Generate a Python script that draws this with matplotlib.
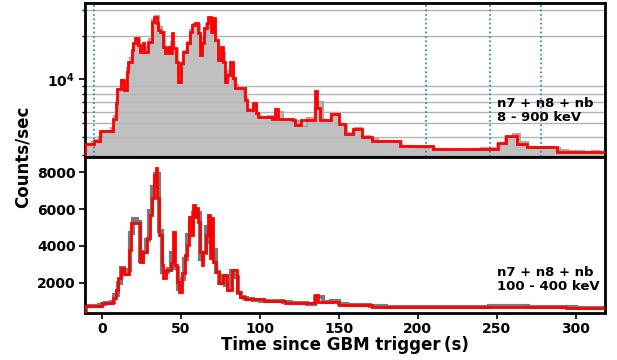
import numpy as np
import matplotlib
matplotlib.use("Agg")
import matplotlib.pyplot as plt
from matplotlib.ticker import LogLocator, NullFormatter, FixedLocator

plt.rcParams["font.family"] = ["DejaVu Sans"]
plt.rcParams["font.weight"] = "bold"
plt.rcParams["axes.labelweight"] = "bold"

# ---------------- 8 - 900 keV (log scale) ----------------
# Bayesian-block light curve (bin edges in s, rate in counts/sec)
bb_edges_hi = [-10.6, -4.9, -1.1, 7.2, 9.1, 9.7, 12.0, 14.1, 15.8, 16.8, 19.0, 20.0,
               21.1, 23.2, 24.2, 25.9, 26.8, 29.5, 31.6, 33.1, 34.8, 35.8, 36.9, 39.0,
               40.1, 42.2, 43.2, 44.3, 45.3, 47.0, 48.5, 50.2, 51.3, 53.8, 55.9, 57.0,
               59.1, 61.1, 62.2, 63.3, 64.7, 66.5, 67.5, 69.0, 70.6, 71.7, 73.8, 75.3,
               76.6, 78.0, 79.1, 81.2, 83.3, 84.4, 90.7, 91.8, 95.8, 97.6, 99.1, 107.6,
               109.7, 111.8, 120.8, 122.3, 126.0, 135.0, 136.5, 138.2, 145.0, 150.0,
               154.0, 159.2, 164.6, 170.9, 188.8, 209.9, 244.0, 251.0, 255.9, 262.7,
               269.4, 288.4, 320.0]
bb_rate_hi = [3580, 3770, 4420, 5320, 6860, 8570, 9890, 8440, 11280, 13230, 15930,
              17710, 19180, 17240, 15490, 17710, 15490, 18170, 24950, 27020, 24330,
              21880, 21290, 16790, 15110, 16790, 15110, 20760, 16360, 13230, 9630,
              12890, 15490, 17710, 21290, 23690, 24330, 20760, 14710, 17710, 22470,
              24330, 27020, 21290, 26340, 18670, 13590, 16790, 13230, 9630, 10700,
              13230, 10160, 8670, 7200, 6210, 6900, 5860, 5520, 5380, 6250, 5380,
              5240, 4840, 5300, 8300, 6400, 5240, 5770, 4900, 4200, 4590, 4050, 3770,
              3470, 3310, 3330, 3680, 4080, 3620, 3430, 3190]

# binned light curve: 2 s bins from -10 to 100 s, 5 s bins from 100 to 320 s
lc_edges = list(range(-10, 100, 2)) + list(range(100, 321, 5))
lc_rate_hi = [3600, 3600, 3700, 3820, 4000,
              4450, 4420, 4450, 4600, 5600, 8500, 9900, 8700, 12000, 14000,
              17200, 19300, 16800, 16800, 16000, 19000, 25500, 27200, 23000, 21300,
              16200, 16000, 18000, 16200, 11000, 12500, 15800, 18000, 22000, 24000,
              23500, 17000, 19500, 24200, 26200, 24000, 18500, 14500, 15200, 10500,
              11500, 12800, 9200, 8800, 8500, 7500, 6300, 6200, 6700, 5900,
              5500, 5600, 6000, 5300, 5200, 4800, 5400, 7000, 5300, 5900,
              4900, 4300, 4650, 4100, 3900, 3800, 3750, 3700, 3500, 3450,
              3400, 3400, 3320, 3300, 3280, 3300, 3280, 3300, 3350, 3400,
              3600, 4000, 4200, 3700, 3450, 3400, 3450, 3400, 3250, 3200,
              3230, 3180, 3200, 3150]

# ---------------- 100 - 400 keV (linear scale) ----------------
bb_edges_lo = [-10.6, 0.0, 7.3, 9.1, 10.5, 12.0, 14.1, 17.5, 18.4, 24.2, 25.9, 28.5,
               30.6, 31.6, 33.1, 34.4, 35.2, 36.5, 38.0, 39.0, 40.7, 43.7, 45.3, 46.4,
               47.8, 49.1, 50.6, 52.7, 54.2, 55.4, 57.0, 58.0, 59.1, 60.1, 61.1, 62.2,
               63.3, 64.3, 65.8, 67.5, 68.5, 69.6, 70.6, 72.5, 74.5, 76.8, 79.0, 82.3,
               85.4, 87.5, 90.7, 103.0, 116.0, 135.0, 137.0, 150.0, 171.0, 294.0, 320.0]
bb_rate_lo = [750, 880, 1150, 1600, 2240, 2780, 2460, 3780, 5250, 3140, 3690, 4410,
              5680, 6590, 7850, 8220, 6590, 4590, 2960, 2270, 2690, 3050, 4770, 2960,
              2050, 1510, 2510, 3500, 4050, 5590, 4590, 6220, 5590, 6040, 5320, 3690,
              2960, 3690, 4590, 5680, 3330, 5500, 3140, 2600, 1970, 2420, 1600, 2690,
              1510, 1240, 1100, 1000, 900, 1330, 950, 800, 700, 650]

lc_rate_lo = [740, 760, 740, 760, 770,
              870, 890, 880, 950, 1350, 2000, 2780, 2500, 2700, 4700,
              5450, 5300, 3200, 3650, 4300, 5900, 7200, 7900, 4800, 2600,
              2600, 2750, 3600, 2800, 1650, 2200, 3300, 4600, 5200, 5800,
              5800, 3300, 3600, 5000, 4200, 3800, 2600, 2000, 2350, 1900,
              1650, 2650, 2300, 1450, 1250, 1150, 1100, 1120, 1080, 1060,
              1000, 1020, 990, 950, 900, 880, 860, 1200, 950, 1000,
              820, 800, 790, 780, 760, 720, 700, 690, 700, 690,
              700, 680, 690, 700, 680, 690, 700, 690, 700, 710,
              720, 760, 740, 710, 700, 690, 700, 680, 690, 660,
              650, 640, 650, 640]

bkg_lines = [-5, 205, 246, 278]
label_hi = "n7 + n8 + nb\n8 - 900 keV"
label_lo = "n7 + n8 + nb\n100 - 400 keV"

fig = plt.figure(figsize=(6.17, 3.6), dpi=100)
ax1 = fig.add_axes([0.1378, 0.5640, 0.8427, 0.4285])
ax2 = fig.add_axes([0.1378, 0.1297, 0.8427, 0.4343], sharex=ax1)

# top panel
ax1.set_yscale("log")
ax1.fill_between(lc_edges, np.r_[lc_rate_hi, lc_rate_hi[-1]], 1, step="post",
                 color="#c0c0c0", lw=0, zorder=1)
ax1.stairs(lc_rate_hi, lc_edges, color="#a8a8a8", lw=1.6, zorder=2)
ax1.stairs(bb_rate_hi, bb_edges_hi, color="red", lw=2.0, zorder=4)
for t in bkg_lines:
    ax1.axvline(t, color="#1f77b4", ls=":", lw=1.2, zorder=3)
ax1.set_ylim(2930, 33700)
ax1.yaxis.set_major_locator(FixedLocator([1e4]))
ax1.yaxis.set_minor_locator(LogLocator(base=10, subs=np.arange(2, 10)))
ax1.yaxis.set_minor_formatter(NullFormatter())
ax1.grid(which="minor", axis="y", color="#b4b4b4", lw=1.0, zorder=0)
ax1.tick_params(axis="x", which="both", bottom=False, labelbottom=False)
ax1.tick_params(axis="y", which="major", length=4, width=1.2, labelsize=10)
ax1.tick_params(axis="y", which="minor", length=2.5, width=1.0)
ax1.text(0.792, 0.30, label_hi, transform=ax1.transAxes, ha="left", va="center",
         fontsize=9.5, fontweight="bold", linespacing=1.1, zorder=5)

# bottom panel
ax2.stairs(lc_rate_lo, lc_edges, color="#7a7a7a", lw=3.0, zorder=2)
ax2.stairs(bb_rate_lo, bb_edges_lo, color="red", lw=2.0, zorder=3)
ax2.set_ylim(340, 8830)
ax2.set_yticks([2000, 4000, 6000, 8000])
ax2.set_xlim(-10.6, 318.5)
ax2.set_xticks([0, 50, 100, 150, 200, 250, 300])
ax2.tick_params(axis="both", length=4, width=1.2, labelsize=10, pad=2.5)
ax2.text(0.792, 0.215, label_lo, transform=ax2.transAxes, ha="left", va="center",
         fontsize=9.5, fontweight="bold", linespacing=1.1, zorder=5)

for ax in (ax1, ax2):
    for s in ax.spines.values():
        s.set_linewidth(2.0)

fig.text(0.559, 0.043, "Time since GBM trigger\u2009(s)", ha="center", va="center",
         fontsize=12, fontweight="bold")
fig.text(0.0365, 0.564, "Counts/sec", ha="center", va="center", rotation=90,
         fontsize=12, fontweight="bold")

fig.savefig("out.png", dpi=100)
